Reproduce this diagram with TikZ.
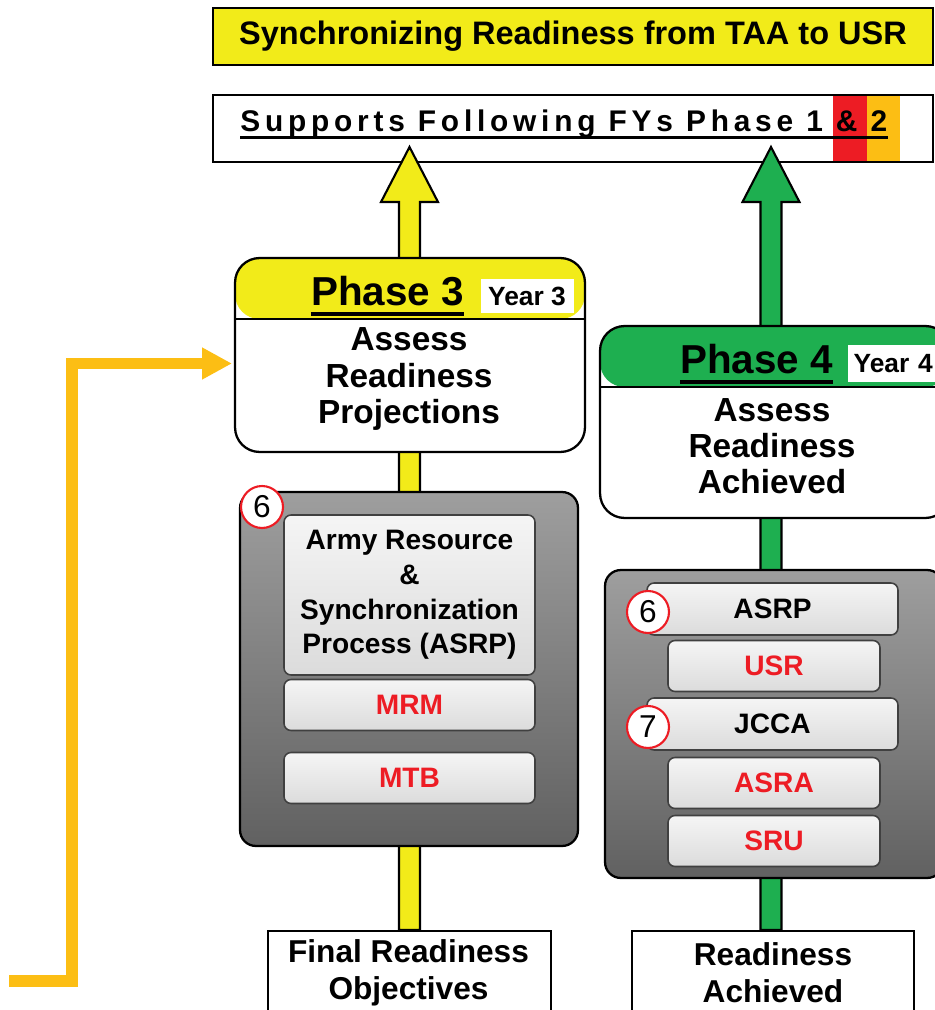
\documentclass[tikz,border=0pt]{standalone}
\usepackage{fontspec}
\setmainfont{Liberation Sans}
\usetikzlibrary{positioning,calc,arrows.meta}
\definecolor{ylw}{RGB}{242,235,25}
\definecolor{grn}{RGB}{30,175,80}
\definecolor{org}{RGB}{252,190,20}
\definecolor{rd}{RGB}{237,28,36}
\begin{document}
\begin{tikzpicture}[x=0.02cm,y=-0.02cm,font=\bfseries,line join=miter,
  plainbox/.style={draw=black,line width=1.2pt,fill=white,inner sep=0pt},
  phasebox/.style={draw=black,line width=1.3pt,rounded corners=14pt,fill=white,minimum width=7cm,
    path picture={\fill[#1] (path picture bounding box.north west) rectangle ([yshift=-1.22cm]path picture bounding box.north east);
      \draw[line width=1.3pt] ([yshift=-1.22cm]path picture bounding box.north west) -- ([yshift=-1.22cm]path picture bounding box.north east);}},
  grpbox/.style={draw=black,line width=1.3pt,rounded corners=9pt,top color=black!38,bottom color=black!62,minimum width=6.76cm},
  inbox/.style={draw=black!75,line width=0.9pt,rounded corners=4pt,top color=black!4,bottom color=black!14,
    minimum width=5.02cm,minimum height=1.02cm,inner sep=0pt,font=\fontsize{16}{19.8}\selectfont\bfseries},
  num/.style={circle,draw=rd,line width=1.2pt,fill=white,minimum size=0.84cm,inner sep=0pt,font=\fontsize{18}{18}\selectfont\mdseries},
  shaft/.style={draw=black,line width=1.2pt,fill=#1},
  big/.style={font=\fontsize{19}{20.6}\selectfont\bfseries,align=center,inner sep=0pt}]
\useasboundingbox (0,0) rectangle (935,1010);
% header boxes
\node[plainbox,fill=ylw,minimum width=14.4cm,minimum height=1.14cm,font=\fontsize{18.5}{22}\selectfont\bfseries] (ttl) at (573,36.5) {Synchronizing Readiness from TAA to USR};
\node[plainbox,minimum width=14.4cm,minimum height=1.34cm] (sup) at (573,128.5) {};
\fill[rd] (833,96) rectangle (867,161);
\fill[org] (867,96) rectangle (900,161);
\node[anchor=base west,inner sep=0pt,font=\fontsize{17}{20}\selectfont\bfseries\addfontfeature{LetterSpace=16}] (suptxt) at (240,132) {Supports Following FYs Phase 1 \& 2};
\draw[line width=1.7pt] ([yshift=-3pt]suptxt.base west) -- ([yshift=-3pt]suptxt.base east);
% shafts
\coordinate (ybot) at (409.5,930);
\coordinate (ytip) at (409.5,147);
\coordinate (gbot) at (771,930);
\coordinate (gtip) at (771,147);
\draw[shaft=ylw] (ybot) ++(-10.5,0) -- ++(0,-728) -- ++(-18,0) -- (ytip) -- ++(28.5,55) -- ++(-18,0) -- ++(0,728) -- cycle;
\draw[shaft=grn] (gbot) ++(-10.5,0) -- ++(0,-728) -- ++(-18,0) -- (gtip) -- ++(28.5,55) -- ++(-18,0) -- ++(0,728) -- cycle;
% phase 3
\node[phasebox=ylw,minimum height=3.88cm] (p3) at (410,355) {};
\node[anchor=base,inner sep=0pt,font=\fontsize{23}{23}\selectfont\bfseries] (ph3) at (387.5,305) {Phase 3};
\draw[line width=2.3pt] ([yshift=-5pt]ph3.base west) -- ([yshift=-5pt]ph3.base east);
\node[fill=white,minimum width=1.86cm,minimum height=0.7cm,inner sep=0pt,font=\fontsize{15}{15}\selectfont\bfseries] (yr3) at (527,296) {Year 3};
\node[big] (as3) at (409,379) {Assess\\Readiness\\Projections};
% phase 4
\node[phasebox=grn,minimum height=3.84cm] (p4) at (775,422) {};
\node[anchor=base,inner sep=0pt,font=\fontsize{23}{23}\selectfont\bfseries] (ph4) at (756.5,373) {Phase 4};
\draw[line width=2.3pt] ([yshift=-5pt]ph4.base west) -- ([yshift=-5pt]ph4.base east);
\node[fill=white,anchor=west,minimum width=1.94cm,minimum height=0.74cm,inner sep=0pt,inner xsep=3pt,font=\fontsize{15}{15}\selectfont\bfseries,text width=1.8cm] (yr4) at (848,363.5) {Year 4};
\node[big] (as4) at (772,446) {Assess\\Readiness\\Achieved};
% process groups
\node[grpbox,minimum height=7.08cm] (g3) at (409,669) {};
\node[inbox,minimum height=3.2cm,align=center] (asrp3) at (409.5,595) {Army Resource\\\&\\Synchronization\\Process (ASRP)};
\node[inbox,text=rd] (mrm) at (409.5,705) {MRM};
\node[inbox,text=rd] (mtb) at (409.5,778) {MTB};
\node[num] (n6a) at (262,507) {6};
\node[grpbox,minimum height=6.16cm] (g4) at (774,724) {};
\node[inbox,minimum height=1.04cm] (asrp4) at (772.5,609) {ASRP};
\node[inbox,minimum width=4.24cm,text=rd] (usr) at (774,666) {USR};
\node[inbox,minimum height=1.04cm] (jcca) at (772.5,724) {JCCA};
\node[inbox,minimum width=4.24cm,text=rd] (asra) at (774,783) {ASRA};
\node[inbox,minimum width=4.24cm,text=rd] (sru) at (774,841) {SRU};
\node[num] (n6b) at (648,612) {6};
\node[num] (n7) at (648,727) {7};
% inputs
\node[plainbox,anchor=north,minimum width=5.66cm,minimum height=2cm] (fro) at (ybot) {};
\node[big,font=\fontsize{18}{21}\selectfont\bfseries] (frotxt) at (408.5,973) {Final Readiness\\Objectives};
\node[plainbox,anchor=north,minimum width=5.64cm,minimum height=2cm] (ach) at (773,930) {};
\node[big,font=\fontsize{18}{21}\selectfont\bfseries] (achtxt) at (773,973) {Readiness\\Achieved};
% feedback
\coordinate (ostart) at (9,981);
\coordinate (oend) at (232,363.5);
\draw[org,line width=6.8pt,-{Triangle[length=17pt,width=17pt]}] (ostart) -| (72,363.5) -- (oend);
\end{tikzpicture}
\end{document}
